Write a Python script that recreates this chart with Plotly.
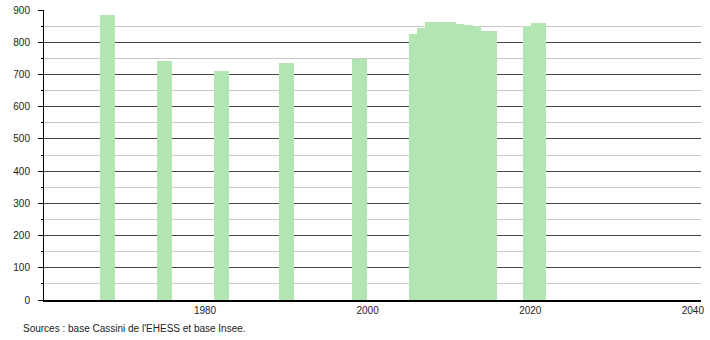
import plotly.graph_objects as go

years = [1968, 1975, 1982, 1990, 1999,
         2006, 2007, 2008, 2009, 2010, 2011, 2012, 2013, 2014, 2015,
         2020, 2021]
population = [885, 743, 712, 735, 748,
              827, 844, 862, 864, 863, 857, 853, 849, 836, 835,
              849, 860]
x_ticks = [1980, 2000, 2020, 2040]
y_ticks = [0, 100, 200, 300, 400, 500, 600, 700, 800, 900]
source_text = "Sources : base Cassini de l'EHESS et base Insee."

fig = go.Figure()
fig.add_trace(go.Bar(
    x=years, y=population, width=1.8,
    marker=dict(color="#b3e5b3", line=dict(width=0)),
    hoverinfo="x+y",
))

font = dict(family="Liberation Sans, Arial, sans-serif", size=10, color="#222222")

fig.update_layout(
    width=710, height=340,
    margin=dict(l=44, r=9, t=10, b=40, autoexpand=False),
    paper_bgcolor="white", plot_bgcolor="white",
    showlegend=False,
    font=font,
    bargap=0,
    xaxis=dict(
        range=[1960.2, 2041], tickmode="array", tickvals=x_ticks,
        ticktext=[str(v) for v in x_ticks],
        showgrid=False, zeroline=False, automargin=False,
        showline=True, linecolor="#000000", linewidth=1.5,
        ticks="", tickfont=font,
    ),
    yaxis=dict(
        range=[0, 900], tickmode="array", tickvals=y_ticks,
        showgrid=True, gridcolor="#444444", gridwidth=1,
        zeroline=False, automargin=False,
        showline=True, linecolor="#000000", linewidth=1,
        ticks="outside", ticklen=5, tickcolor="#000000", tickwidth=1,
        ticklabelstandoff=6,
        tickfont=font,
        minor=dict(dtick=50, showgrid=True, gridcolor="#c8c8c8", gridwidth=1,
                   ticks="outside", ticklen=2, tickcolor="#000000"),
    ),
    annotations=[dict(
        text=source_text, xref="paper", yref="paper",
        x=-0.0355, y=-0.0966, xanchor="left", yanchor="middle",
        showarrow=False, font=font,
    )],
)

fig.write_html("out.html")
